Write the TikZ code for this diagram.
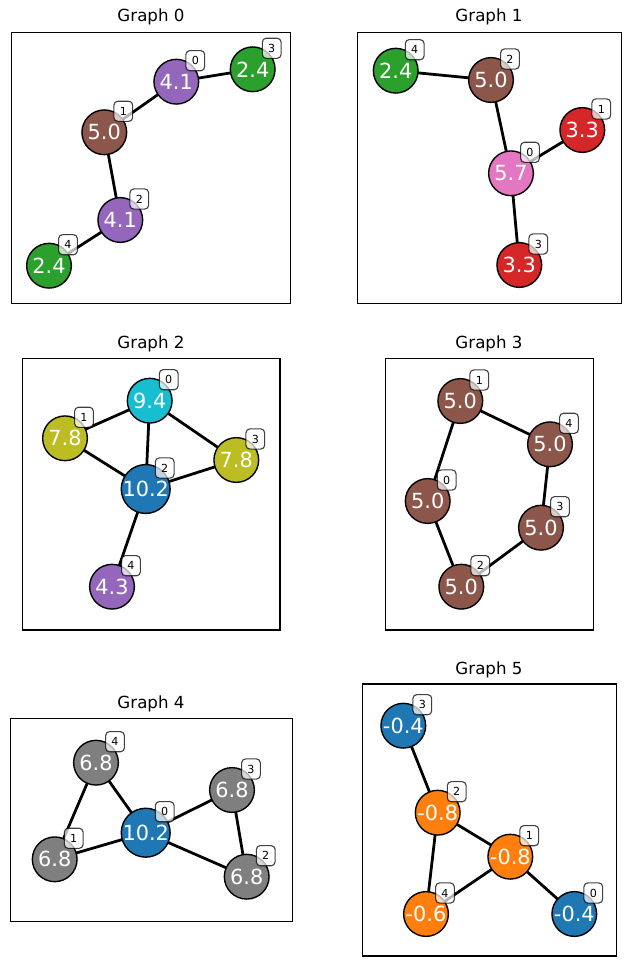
\documentclass[tikz,border=0pt]{standalone}
\usepackage{fontspec}
\setmainfont{DejaVu Sans}
\definecolor{tblue}{HTML}{1F77B4}
\definecolor{torange}{HTML}{FF7F0E}
\definecolor{tgreen}{HTML}{2CA02C}
\definecolor{tred}{HTML}{D62728}
\definecolor{tpurple}{HTML}{9467BD}
\definecolor{tbrown}{HTML}{8C564B}
\definecolor{tpink}{HTML}{E377C2}
\definecolor{tgray}{HTML}{7F7F7F}
\definecolor{tolive}{HTML}{BCBD22}
\definecolor{tcyan}{HTML}{17BECF}
\begin{document}
\begin{tikzpicture}[x=0.72pt,y=-0.72pt,
  gnode/.style={circle, draw=black, line width=1pt, minimum size=32.2pt, inner sep=0pt, text=white, font=\fontsize{15}{15}\selectfont},
  idlbl/.style={draw=black, draw opacity=0.75, fill=white, fill opacity=0.7, text opacity=1, rounded corners=2.8pt, minimum width=13.5pt, minimum height=14.5pt, inner sep=0pt, line width=0.8pt, font=\fontsize{8}{8}\selectfont},
  gedge/.style={line width=2pt},
  axframe/.style={line width=0.8pt},
  gtitle/.style={font=\fontsize{12}{12}\selectfont}]
\useasboundingbox (0,0) rectangle (631,966);
\fill[white] (0,0) rectangle (631,966);

% ---------- Graph 0
\node[gtitle] (t0) at (151,17) {Graph 0};
\draw[axframe] (11.5,32.3) rectangle (290.5,303.5);
\coordinate (g0p0) at (176.3,81.7);
\coordinate (g0p1) at (104.3,132.3);
\coordinate (g0p2) at (120.3,220);
\coordinate (g0p3) at (252.7,69.3);
\coordinate (g0p4) at (49,265.7);
\draw[gedge] (g0p0) -- (g0p3) (g0p0) -- (g0p1) (g0p1) -- (g0p2) (g0p2) -- (g0p4);
\node[gnode, fill=tpurple] (g0n0) at (g0p0) {4.1};
\node[gnode, fill=tbrown] (g0n1) at (g0p1) {5.0};
\node[gnode, fill=tpurple] (g0n2) at (g0p2) {4.1};
\node[gnode, fill=tgreen] (g0n3) at (g0p3) {2.4};
\node[gnode, fill=tgreen] (g0n4) at (g0p4) {2.4};
\foreach \i in {0,...,4} {\node[idlbl] (g0l\i) at ([shift={(19,-21)}]g0n\i.center) {\i};}

% ---------- Graph 1
\node[gtitle] (t1) at (489,17) {Graph 1};
\draw[axframe] (357.3,32.3) rectangle (621.7,303.5);
\coordinate (g1p0) at (511,173.3);
\coordinate (g1p1) at (582.3,130);
\coordinate (g1p2) at (491,80);
\coordinate (g1p3) at (519.3,265);
\coordinate (g1p4) at (395.7,70.7);
\draw[gedge] (g1p4) -- (g1p2) (g1p2) -- (g1p0) (g1p0) -- (g1p1) (g1p0) -- (g1p3);
\node[gnode, fill=tpink] (g1n0) at (g1p0) {5.7};
\node[gnode, fill=tred] (g1n1) at (g1p1) {3.3};
\node[gnode, fill=tbrown] (g1n2) at (g1p2) {5.0};
\node[gnode, fill=tred] (g1n3) at (g1p3) {3.3};
\node[gnode, fill=tgreen] (g1n4) at (g1p4) {2.4};
\foreach \i in {0,...,4} {\node[idlbl] (g1l\i) at ([shift={(19,-21)}]g1n\i.center) {\i};}

% ---------- Graph 2
\node[gtitle] (t2) at (151,344) {Graph 2};
\draw[axframe] (22.3,358.3) rectangle (280,630);
\coordinate (g2p0) at (149.7,400.7);
\coordinate (g2p1) at (65,438.3);
\coordinate (g2p2) at (145.7,489);
\coordinate (g2p3) at (236.3,460);
\coordinate (g2p4) at (112,586.7);
\draw[gedge] (g2p0) -- (g2p1) (g2p0) -- (g2p2) (g2p0) -- (g2p3) (g2p1) -- (g2p2) (g2p2) -- (g2p3) (g2p2) -- (g2p4);
\node[gnode, fill=tcyan] (g2n0) at (g2p0) {9.4};
\node[gnode, fill=tolive] (g2n1) at (g2p1) {7.8};
\node[gnode, fill=tblue] (g2n2) at (g2p2) {10.2};
\node[gnode, fill=tolive] (g2n3) at (g2p3) {7.8};
\node[gnode, fill=tpurple] (g2n4) at (g2p4) {4.3};
\foreach \i in {0,...,4} {\node[idlbl] (g2l\i) at ([shift={(19,-21)}]g2n\i.center) {\i};}

% ---------- Graph 3
\node[gtitle] (t3) at (489,344) {Graph 3};
\draw[axframe] (385.7,358.3) rectangle (593.3,630);
\coordinate (g3p0) at (427.7,501);
\coordinate (g3p1) at (460.3,401);
\coordinate (g3p2) at (461.3,586.7);
\coordinate (g3p3) at (541,527.7);
\coordinate (g3p4) at (550,444.3);
\draw[gedge] (g3p1) -- (g3p0) (g3p1) -- (g3p4) (g3p4) -- (g3p3) (g3p3) -- (g3p2) (g3p2) -- (g3p0);
\foreach \i in {0,...,4} {\node[gnode, fill=tbrown] (g3n\i) at (g3p\i) {5.0};}
\foreach \i in {0,...,4} {\node[idlbl] (g3l\i) at ([shift={(19,-21)}]g3n\i.center) {\i};}

% ---------- Graph 4
\node[gtitle] (t4) at (151,704) {Graph 4};
\draw[axframe] (10.7,718.3) rectangle (292.3,921.7);
\coordinate (g4p0) at (145.7,832.7);
\coordinate (g4p1) at (54.7,859.3);
\coordinate (g4p2) at (246.7,876.7);
\coordinate (g4p3) at (232,790);
\coordinate (g4p4) at (96,762.7);
\draw[gedge] (g4p4) -- (g4p1) (g4p4) -- (g4p0) (g4p0) -- (g4p1) (g4p0) -- (g4p3) (g4p0) -- (g4p2) (g4p3) -- (g4p2);
\node[gnode, fill=tblue] (g4n0) at (g4p0) {10.2};
\node[gnode, fill=tgray] (g4n1) at (g4p1) {6.8};
\node[gnode, fill=tgray] (g4n2) at (g4p2) {6.8};
\node[gnode, fill=tgray] (g4n3) at (g4p3) {6.8};
\node[gnode, fill=tgray] (g4n4) at (g4p4) {6.8};
\foreach \i in {0,...,4} {\node[idlbl] (g4l\i) at ([shift={(19,-21)}]g4n\i.center) {\i};}

% ---------- Graph 5
\node[gtitle] (t5) at (489,670) {Graph 5};
\draw[axframe] (362.3,684) rectangle (616.7,956);
\coordinate (g5p0) at (574.3,914);
\coordinate (g5p1) at (510.3,856.7);
\coordinate (g5p2) at (437.7,812.7);
\coordinate (g5p3) at (403.3,725.7);
\coordinate (g5p4) at (426,914);
\draw[gedge] (g5p3) -- (g5p2) (g5p2) -- (g5p1) (g5p2) -- (g5p4) (g5p1) -- (g5p4) (g5p1) -- (g5p0);
\node[gnode, fill=tblue] (g5n0) at (g5p0) {-0.4};
\node[gnode, fill=torange] (g5n1) at (g5p1) {-0.8};
\node[gnode, fill=torange] (g5n2) at (g5p2) {-0.8};
\node[gnode, fill=tblue] (g5n3) at (g5p3) {-0.4};
\node[gnode, fill=torange] (g5n4) at (g5p4) {-0.6};
\foreach \i in {0,...,4} {\node[idlbl] (g5l\i) at ([shift={(19,-21)}]g5n\i.center) {\i};}
\end{tikzpicture}
\end{document}
